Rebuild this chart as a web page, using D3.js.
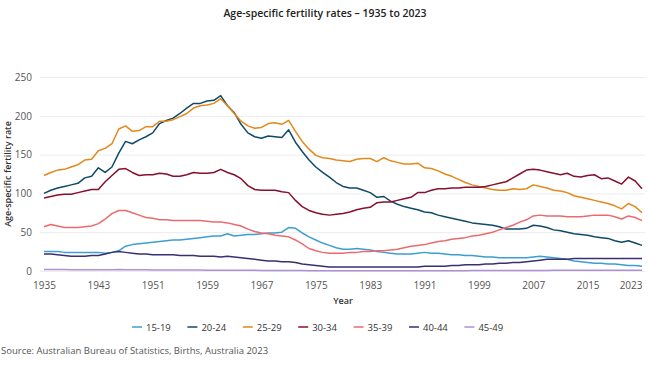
<!DOCTYPE html>
<html>
<head>
<meta charset="utf-8">
<script src="https://d3js.org/d3.v7.min.js"></script>
<style>
  body { margin: 0; background: #fff; }
  svg { font-family: "Open Sans", "Noto Sans", sans-serif; }
</style>
</head>
<body>
<svg id="chart" width="650" height="366"></svg>
<script>
// years 1935..2023
const firstYear = 1935, lastYear = 2023;
const years = d3.range(firstYear, lastYear + 1);
const xTicks = [1935, 1943, 1951, 1959, 1967, 1975, 1983, 1991, 1999, 2007, 2015, 2023];
const yTicks = [0, 50, 100, 150, 200, 250];

const ageGroups = ["15-19", "20-24", "25-29", "30-34", "35-39", "40-44", "45-49"];
const colors = ["#3c9fd0", "#0f4a6b", "#e2891a", "#870f2f", "#ec6a6e", "#392f73", "#b08fd4"];

const rate1519 = [
  25,25,25,24,24,24,24,24,24,23,
  24,26,32,34,35,36,37,38,39,40,
  40,41,42,43,44,45,45,48,45,46,
  47,47,48,49,49,50,56,55,49,44,
  40,36,33,30,28,28,29,28,27,25,
  24,23,22,22,22,23,24,23,23,22,
  21,21,20,20,19,18,18,17,17,17,
  17,17,18,19,18,17,16,15,13,12,
  11,10,10,9,9,8,7,7,6];
const rate2024 = [
  100,104,107,109,111,113,120,122,133,127,
  134,152,167,164,169,173,178,190,194,197,
  203,210,216,216,219,220,226,213,204,189,
  178,173,171,174,173,172,182,166,154,143,
  134,127,121,114,109,107,107,104,101,95,
  96,90,86,83,81,79,76,75,72,70,
  68,66,64,62,61,60,59,57,54,54,
  54,55,59,58,56,53,52,50,48,47,
  46,44,43,42,39,37,39,36,33];
const rate2529 = [
  123,127,130,131,134,137,143,144,155,158,
  164,183,187,180,181,186,186,193,193,195,
  199,203,210,213,214,216,222,213,203,193,
  187,184,185,190,191,189,194,180,167,157,
  149,146,145,143,142,141,144,145,145,141,
  146,142,140,138,138,139,133,132,129,125,
  122,118,114,111,109,107,105,104,104,106,
  105,106,111,109,107,104,103,101,97,95,
  93,91,89,87,84,80,87,83,75];
const rate3034 = [
  94,96,98,99,99,101,103,105,105,115,
  123,131,132,127,123,124,124,126,125,122,
  122,124,127,126,126,127,131,127,124,119,
  110,105,104,104,104,102,101,91,83,78,
  75,73,72,73,74,76,79,81,82,88,
  89,89,91,93,95,101,101,104,106,106,
  107,107,108,108,108,109,111,113,115,120,
  125,130,131,130,128,126,124,126,122,121,
  123,124,119,120,116,112,121,116,106];
const rate3539 = [
  57,60,58,56,56,56,57,58,61,67,
  74,78,78,75,72,69,68,66,66,65,
  65,65,65,65,64,63,63,62,60,58,
  54,51,49,48,46,45,44,40,35,29,
  26,24,23,23,23,24,24,25,25,26,
  26,27,28,30,32,33,34,36,38,39,
  41,42,43,45,46,48,50,53,56,59,
  63,66,71,72,71,71,71,70,70,70,
  71,72,72,72,70,67,71,69,65];
const rate4044 = [
  22,22,21,20,19,19,19,20,20,22,
  24,25,24,23,22,22,21,21,21,21,
  20,20,20,19,19,19,18,19,18,17,
  16,15,14,13,13,12,12,11,9,8,
  7,6,5,5,5,5,5,5,5,5,
  5,5,5,5,5,5,6,6,6,6,
  7,7,8,8,8,9,9,10,10,11,
  11,12,13,14,15,15,15,15,16,16,
  16,16,16,16,16,16,16,16,16];
const rate4549 = [
  2.0,2.0,1.9,1.8,1.7,1.7,1.6,1.6,1.6,1.7,
  1.7,1.8,1.7,1.6,1.5,1.5,1.4,1.4,1.3,1.3,
  1.3,1.2,1.2,1.2,1.1,1.1,1.1,1.1,1.0,1.0,
  0.9,0.9,0.8,0.8,0.7,0.7,0.6,0.6,0.5,0.4,
  0.4,0.3,0.3,0.3,0.3,0.3,0.2,0.2,0.2,0.2,
  0.2,0.2,0.2,0.2,0.2,0.3,0.3,0.3,0.3,0.3,
  0.4,0.4,0.4,0.5,0.5,0.5,0.6,0.6,0.7,0.7,
  0.7,0.8,0.8,0.8,0.8,0.9,0.9,0.9,0.9,0.9,
  1.0,1.0,1.0,1.0,1.0,1.0,1.0,1.0,1.1];

const seriesValues = [rate1519, rate2024, rate2529, rate3034, rate3539, rate4044, rate4549];

const svg = d3.select("#chart");

const x = d3.scaleLinear().domain([firstYear, lastYear]).range([44, 642]);
const y = d3.scaleLinear().domain([0, 250]).range([271, 77]);

// title
svg.append("text")
  .attr("x", 325).attr("y", 17)
  .attr("text-anchor", "middle")
  .style("font-size", "10.5px").style("font-weight", 600).style("fill", "#222")
  .text("Age-specific fertility rates \u2013 1935 to 2023");

// grid + y axis
const yAxis = svg.append("g")
  .attr("transform", "translate(40,0)")
  .call(d3.axisLeft(y).tickValues(yTicks).tickSize(-605).tickPadding(8));
yAxis.select(".domain").remove();
yAxis.selectAll(".tick line").attr("stroke", "#ececec");
yAxis.selectAll(".tick text").style("font-size", "10px").style("fill", "#555")
  .attr("font-family", "Open Sans");

// x axis
const xAxis = svg.append("g")
  .attr("transform", "translate(0,271)")
  .call(d3.axisBottom(x).tickValues(xTicks).tickFormat(d3.format("d")).tickSize(0).tickPadding(11));
xAxis.select(".domain").remove();
xAxis.selectAll(".tick text").style("font-size", "10px").style("fill", "#555")
  .attr("font-family", "Open Sans")
  .attr("text-anchor", d => d === lastYear ? "end" : "middle");

// axis titles
svg.append("text")
  .attr("x", 343).attr("y", 304)
  .attr("text-anchor", "middle")
  .style("font-size", "9px").style("font-weight", 600).style("fill", "#333")
  .text("Year");
svg.append("text")
  .attr("transform", "translate(11,174) rotate(-90)")
  .attr("text-anchor", "middle")
  .style("font-size", "9px").style("font-weight", 600).style("fill", "#333")
  .text("Age-specific fertility rate");

// lines
const line = d3.line()
  .x((d, i) => x(years[i]))
  .y(d => y(d));

seriesValues.forEach((vals, k) => {
  svg.append("path")
    .datum(vals)
    .attr("fill", "none")
    .attr("stroke", colors[k])
    .attr("stroke-width", 1.5)
    .attr("stroke-linejoin", "round")
    .attr("d", line);
});

// legend
const legend = svg.append("g");
ageGroups.forEach((name, k) => {
  const lx = 132 + k * 55.4;
  legend.append("line")
    .attr("x1", lx).attr("x2", lx + 10)
    .attr("y1", 327).attr("y2", 327)
    .attr("stroke", colors[k]).attr("stroke-width", 1.5);
  legend.append("text")
    .attr("x", lx + 14).attr("y", 330.5)
    .style("font-size", "9.5px").style("fill", "#333")
    .text(name);
});

// source
svg.append("text")
  .attr("x", 1).attr("y", 354)
  .style("font-size", "9.5px").style("fill", "#555")
  .text("Source: Australian Bureau of Statistics, Births, Australia 2023");
</script>
</body>
</html>
